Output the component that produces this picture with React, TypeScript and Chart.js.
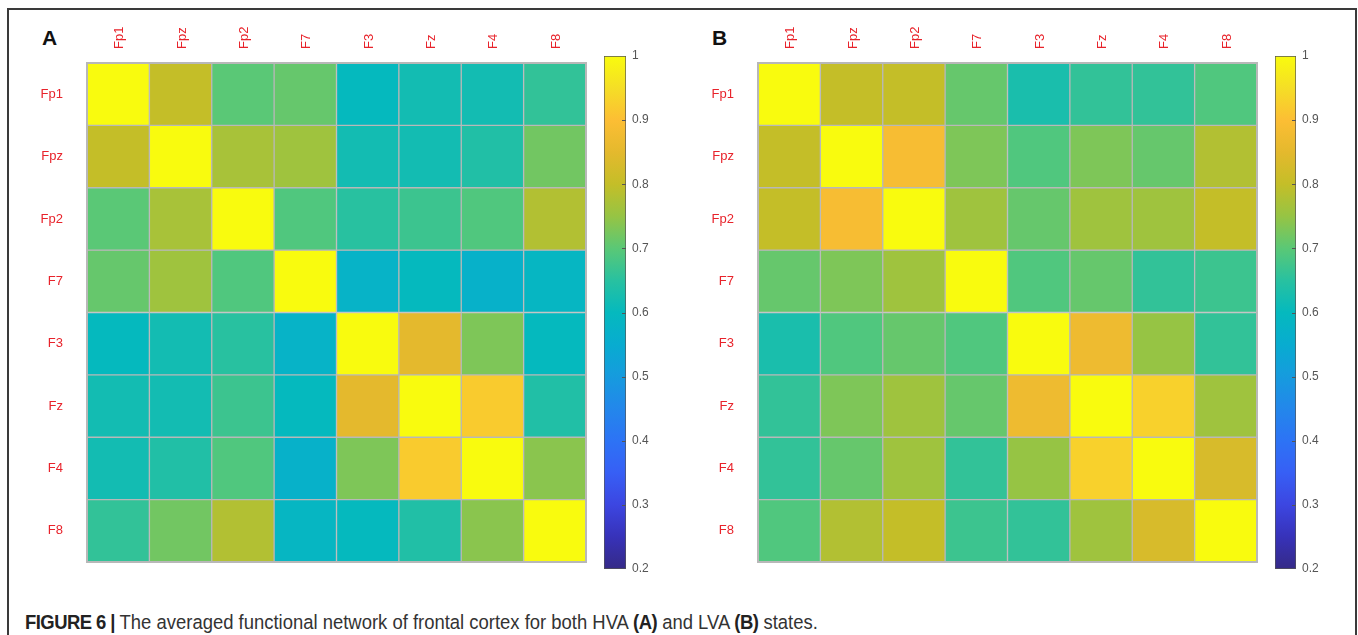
import React, { useEffect, useRef } from "react";
import { Chart, registerables } from "chart.js";

Chart.register(...registerables);

// ---------- data ----------
const channels = ["Fp1", "Fpz", "Fp2", "F7", "F3", "Fz", "F4", "F8"];

// HVA (panel A)
const hvaFp1 = [1.0, 0.8, 0.7, 0.71, 0.6, 0.62, 0.62, 0.66];
const hvaFpz = [0.8, 1.0, 0.77, 0.76, 0.62, 0.62, 0.64, 0.72];
const hvaFp2 = [0.7, 0.77, 1.0, 0.69, 0.65, 0.67, 0.69, 0.78];
const hvaF7 = [0.71, 0.76, 0.69, 1.0, 0.575, 0.6, 0.57, 0.59];
const hvaF3 = [0.6, 0.62, 0.65, 0.575, 1.0, 0.85, 0.73, 0.6];
const hvaFz = [0.62, 0.62, 0.67, 0.6, 0.85, 1.0, 0.92, 0.64];
const hvaF4 = [0.62, 0.64, 0.69, 0.57, 0.73, 0.92, 1.0, 0.74];
const hvaF8 = [0.66, 0.72, 0.78, 0.59, 0.6, 0.64, 0.74, 1.0];

// LVA (panel B)
const lvaFp1 = [1.0, 0.8, 0.8, 0.71, 0.63, 0.66, 0.66, 0.69];
const lvaFpz = [0.8, 1.0, 0.89, 0.73, 0.69, 0.73, 0.71, 0.78];
const lvaFp2 = [0.8, 0.89, 1.0, 0.76, 0.71, 0.76, 0.76, 0.8];
const lvaF7 = [0.71, 0.73, 0.76, 1.0, 0.69, 0.71, 0.66, 0.67];
const lvaF3 = [0.63, 0.69, 0.71, 0.69, 1.0, 0.87, 0.75, 0.66];
const lvaFz = [0.66, 0.73, 0.76, 0.71, 0.87, 1.0, 0.93, 0.76];
const lvaF4 = [0.66, 0.71, 0.76, 0.66, 0.75, 0.93, 1.0, 0.83];
const lvaF8 = [0.69, 0.78, 0.8, 0.67, 0.66, 0.76, 0.83, 1.0];

const hvaRows = [hvaFp1, hvaFpz, hvaFp2, hvaF7, hvaF3, hvaFz, hvaF4, hvaF8];
const lvaRows = [lvaFp1, lvaFpz, lvaFp2, lvaF7, lvaF3, lvaFz, lvaF4, lvaF8];

const colorMin = 0.2;
const colorMax = 1;
const colorbarTicks = [0.2, 0.3, 0.4, 0.5, 0.6, 0.7, 0.8, 0.9, 1];
const colorbarLabels = ["0.2", "0.3", "0.4", "0.5", "0.6", "0.7", "0.8", "0.9", "1"];

// ---------- colormap (parula-like) ----------
const cmapStops: [number, number[]][] = [
  [0.2, [53, 42, 135]],
  [0.25, [55, 50, 185]],
  [0.3, [60, 70, 225]],
  [0.35, [55, 95, 245]],
  [0.4, [45, 115, 245]],
  [0.45, [35, 135, 235]],
  [0.5, [22, 155, 222]],
  [0.55, [8, 172, 208]],
  [0.6, [5, 185, 190]],
  [0.65, [40, 193, 160]],
  [0.7, [90, 200, 118]],
  [0.75, [150, 196, 68]],
  [0.8, [196, 190, 40]],
  [0.85, [228, 185, 45]],
  [0.9, [252, 190, 52]],
  [0.95, [245, 222, 38]],
  [1.0, [249, 251, 14]],
];

function cmap(v: number): string {
  if (v <= cmapStops[0][0]) return `rgb(${cmapStops[0][1].join(",")})`;
  for (let i = 1; i < cmapStops.length; i++) {
    const [v1, c1] = cmapStops[i];
    const [v0, c0] = cmapStops[i - 1];
    if (v <= v1) {
      const t = (v - v0) / (v1 - v0);
      const c = c0.map((x, k) => Math.round(x + (c1[k] - x) * t));
      return `rgb(${c.join(",")})`;
    }
  }
  return `rgb(${cmapStops[cmapStops.length - 1][1].join(",")})`;
}

const RED = "#e8232b";
const GRIDLINE = "#b8b8b8";
const SANS = "Liberation Sans, Arial, sans-serif";

const borderPlugin = {
  id: "heatBorder",
  afterDatasetsDraw(chart: any) {
    const { ctx, chartArea } = chart;
    ctx.save();
    ctx.strokeStyle = GRIDLINE;
    ctx.lineWidth = 2;
    ctx.strokeRect(chartArea.left, chartArea.top, chartArea.right - chartArea.left, chartArea.bottom - chartArea.top);
    ctx.restore();
  },
};

function Heatmap({ rows, left, gridLeft, gridRight, gridTop, gridBottom }: any) {
  const ref = useRef<HTMLCanvasElement>(null);
  const padR = 10;
  const padB = 40;
  const width = gridRight - left + padR;
  const height = gridBottom + padB;
  useEffect(() => {
    const chart = new Chart(ref.current as HTMLCanvasElement, {
      type: "bar",
      data: {
        labels: channels,
        datasets: rows.map((row: number[], r: number) => ({
          label: channels[r],
          data: row.map(() => 1),
          backgroundColor: row.map((v) => cmap(v)),
          borderColor: GRIDLINE,
          borderWidth: 1,
          borderSkipped: false,
          barPercentage: 1,
          categoryPercentage: 1,
        })),
      },
      options: {
        animation: false,
        responsive: false,
        layout: { padding: { left: 0, top: 0, right: padR, bottom: padB } },
        plugins: { legend: { display: false }, tooltip: { enabled: false } },
        scales: {
          x: {
            type: "category",
            position: "top",
            stacked: true,
            offset: true,
            grid: { display: false, drawTicks: false },
            border: { display: false },
            ticks: {
              minRotation: 90,
              maxRotation: 90,
              color: RED,
              font: { family: SANS, size: 13 },
              padding: 14,
              labelOffset: 17,
              autoSkip: false,
            },
            afterFit: (s: any) => {
              s.height = gridTop;
            },
          },
          y: {
            type: "linear",
            min: 0,
            max: channels.length,
            reverse: true,
            stacked: true,
            grid: { display: false, drawTicks: false },
            border: { display: false },
            afterBuildTicks: (s: any) => {
              s.ticks = channels.map((_, i) => ({ value: i + 0.5 }));
            },
            ticks: {
              color: RED,
              font: { family: SANS, size: 13 },
              padding: 24,
              autoSkip: false,
              callback: (_v: any, i: number) => channels[i],
            },
            afterFit: (s: any) => {
              s.width = gridLeft - left;
            },
          },
        },
      },
      plugins: [borderPlugin],
    } as any);
    return () => chart.destroy();
  }, []);
  return (
    <canvas
      ref={ref}
      width={width}
      height={height}
      style={{ position: "absolute", left, top: 0, width, height }}
    />
  );
}

const colorbarTickPlugin = {
  id: "cbTicks",
  afterDatasetsDraw(chart: any) {
    const { ctx, chartArea, scales } = chart;
    ctx.save();
    ctx.strokeStyle = "#555";
    ctx.lineWidth = 1;
    colorbarTicks.forEach((v) => {
      if (v === colorMin || v === colorMax) return;
      const y = Math.round(scales.y.getPixelForValue(v)) + 0.5;
      ctx.beginPath();
      ctx.moveTo(chartArea.right - 4, y);
      ctx.lineTo(chartArea.right, y);
      ctx.stroke();
    });
    ctx.restore();
  },
};

function Colorbar({ barLeft, barRight, barTop, barBottom }: any) {
  const ref = useRef<HTMLCanvasElement>(null);
  const left = barLeft - 14;
  const top = barTop - 20;
  const width = barRight - left + 44;
  const height = barBottom - top + 20;
  useEffect(() => {
    const chart = new Chart(ref.current as HTMLCanvasElement, {
      type: "bar",
      data: {
        labels: [""],
        datasets: [
          {
            data: [[colorMin, colorMax]],
            backgroundColor: (c: any) => {
              const ch = c.chart;
              if (!ch.chartArea) return "rgba(0,0,0,0)";
              const ys = ch.scales.y;
              const g = ch.ctx.createLinearGradient(0, ys.getPixelForValue(colorMin), 0, ys.getPixelForValue(colorMax));
              cmapStops.forEach(([v, col]) =>
                g.addColorStop((v - colorMin) / (colorMax - colorMin), `rgb(${col.join(",")})`)
              );
              return g;
            },
            borderColor: "#555",
            borderWidth: 1,
            borderSkipped: false,
            barPercentage: 1,
            categoryPercentage: 1,
          },
        ],
      },
      options: {
        animation: false,
        responsive: false,
        layout: { padding: { left: 14, top: 20, right: 0, bottom: 20 } },
        plugins: { legend: { display: false }, tooltip: { enabled: false } },
        scales: {
          x: { display: false },
          y: {
            position: "right",
            min: colorMin,
            max: colorMax,
            grid: { display: false, drawTicks: false },
            border: { display: false },
            afterBuildTicks: (s: any) => {
              s.ticks = colorbarTicks.map((v) => ({ value: v }));
            },
            ticks: {
              color: "#555",
              font: { family: SANS, size: 12 },
              padding: 6,
              callback: (_v: any, i: number) => colorbarLabels[i],
            },
            afterFit: (s: any) => {
              s.width = 44;
            },
          },
        },
      },
      plugins: [colorbarTickPlugin],
    } as any);
    return () => chart.destroy();
  }, []);
  return (
    <canvas
      ref={ref}
      width={width}
      height={height}
      style={{ position: "absolute", left, top, width, height }}
    />
  );
}

export default function App() {
  const letterStyle: any = {
    position: "absolute",
    top: 27,
    fontFamily: SANS,
    fontWeight: "bold",
    fontSize: 21,
    lineHeight: "21px",
    color: "#111",
  };
  const boldStyle: any = { color: "#222", letterSpacing: "-0.6px" };
  return (
    <div
      style={{
        position: "absolute",
        left: 0,
        top: 0,
        width: 1358,
        height: 635,
        overflow: "hidden",
        background: "#fff",
      }}
    >
      <div
        style={{
          position: "absolute",
          left: 7,
          top: 8,
          width: 1346,
          height: 700,
          border: "2px solid #3a3a3a",
        }}
      />
      <div style={{ ...letterStyle, left: 42 }}>A</div>
      <div style={{ ...letterStyle, left: 712 }}>B</div>
      <Heatmap rows={hvaRows} left={0} gridLeft={87} gridRight={586} gridTop={63} gridBottom={562} />
      <Colorbar barLeft={604} barRight={626} barTop={56} barBottom={569} />
      <Heatmap rows={lvaRows} left={670} gridLeft={758} gridRight={1257} gridTop={63} gridBottom={562} />
      <Colorbar barLeft={1275} barRight={1296} barTop={56} barBottom={569} />
      <div
        style={{
          position: "absolute",
          left: 25,
          top: 612,
          fontFamily: SANS,
          fontSize: 20.5,
          lineHeight: "20.5px",
          color: "#333",
          whiteSpace: "nowrap",
          transform: "scaleX(0.9)",
          transformOrigin: "0 0",
        }}
      >
        <b style={boldStyle}>FIGURE 6 | </b>The averaged functional network of frontal cortex for both HVA{" "}
        <b style={boldStyle}>(A)</b> and LVA <b style={boldStyle}>(B)</b> states.
      </div>
    </div>
  );
}
